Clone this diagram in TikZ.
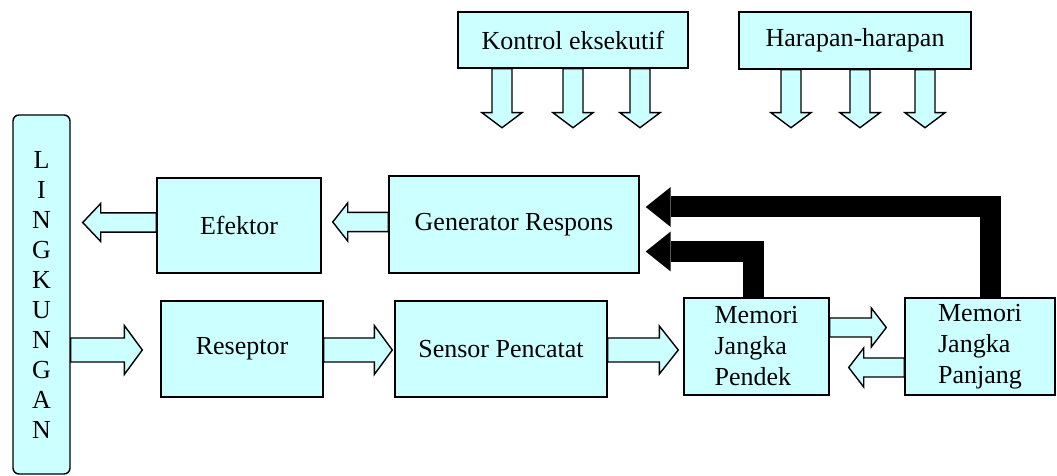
\documentclass[tikz,border=0pt]{standalone}
\usepackage{fontspec}
\setmainfont{Liberation Serif}
\usetikzlibrary{calc,arrows.meta}
\definecolor{boxcyan}{HTML}{CCFFFF}

\tikzset{
  box/.style={draw,rectangle,fill=boxcyan,line width=0.7pt,inner sep=0pt,align=center},
  hollow/.style={draw,fill=boxcyan,line width=0.7pt},
  recall/.style={line width=10.5pt,-{Triangle[length=12.5pt,width=20pt,line width=0pt]}},
}

% fat outlined arrow: shaft half width, head half width, head length, from, to
\newcommand{\blockarrow}[5]{%
  \coordinate (ba_s) at (#4);
  \coordinate (ba_e) at (#5);
  \coordinate (ba_m) at ($(ba_e)!#3!(ba_s)$);
  \draw[hollow] ($(ba_s)!#1!90:(ba_e)$) -- ($(ba_m)!#1!-90:(ba_s)$)
    -- ($(ba_m)!#2!-90:(ba_s)$) -- (ba_e) -- ($(ba_m)!#2!90:(ba_s)$)
    -- ($(ba_m)!#1!90:(ba_s)$) -- ($(ba_s)!#1!-90:(ba_e)$) -- cycle;
}

\begin{document}
\begin{tikzpicture}[x=0.5pt,y=-0.5pt,font=\fontsize{13}{15}\selectfont]
 \useasboundingbox (0,0) rectangle (1057,476);

 \node[box,minimum width=115pt,minimum height=28pt] (kontrol) at (573,40) {Kontrol eksekutif};
 \node[box,minimum width=116pt,minimum height=28.5pt] (harapan) at (855,40.5) {Harapan-harapan};
 \node[box,rounded corners=3pt,minimum width=28.5pt,minimum height=179.5pt] (lingkungan) at (41.5,294.5)
{L\\I\\N\\G\\K\\U\\N\\G\\A\\N};

 \node[box,minimum width=82pt,minimum height=47.5pt] (efektor) at (239,225.5) {Efektor};
 \node[box,minimum width=125pt,minimum height=48.5pt] (generator) at (514,224.5) {Generator Respons};

 \node[box,minimum width=81pt,minimum height=48pt] (reseptor) at (242,349) {Reseptor};
 \node[box,minimum width=106pt,minimum height=48pt] (sensor) at (501,349) {Sensor Pencatat};
 \node[box,align=left,minimum width=72.5pt,minimum height=48.5pt,font=\fontsize{13}{15.5}\selectfont]
(mem_pendek) at (756.5,346.5) {Memori\\Jangka\\Pendek};
 \node[box,align=left,minimum width=75pt,minimum height=48.5pt,font=\fontsize{13}{15.5}\selectfont]
(mem_panjang) at (980,346.5) {Memori\\Jangka\\Panjang};

% hollow arrows from the top boxes
 \foreach \dx in {-71,0,67}
  \blockarrow{5pt}{10pt}{7.5pt}{$(kontrol.south)+(\dx,0)$}{$(kontrol.south)+(\dx,59)$};
 \foreach \dx in {-64,5,70}
  \blockarrow{5pt}{10pt}{7.5pt}{$(harapan.south)+(\dx,0)$}{$(harapan.south)+(\dx,58)$};

% hollow arrows between the boxes
 \blockarrow{4.8pt}{9.5pt}{9pt}{$(efektor.west)+(0,-3)$}{$(lingkungan.east |- efektor.west)+(12,-3)$};
 \blockarrow{4.8pt}{9.5pt}{7.5pt}{$(generator.west)+(0,-2.5)$}{$(efektor.east)+(11,-3.5)$};
 \blockarrow{6pt}{12.25pt}{9pt}{$(lingkungan.east |- reseptor.west)+(0,1)$}{$(reseptor.west)+(-18,1)$};
 \blockarrow{6pt}{12.25pt}{9pt}{$(reseptor.east)+(0,1)$}{$(sensor.west)+(-2,1)$};
 \blockarrow{6pt}{12pt}{9.5pt}{$(sensor.east)+(0,1)$}{$(mem_pendek.west)+(-5,3.5)$};
 \blockarrow{4.75pt}{9.75pt}{7.5pt}{$(mem_pendek.east)+(0,-19)$}{$(mem_panjang.west)+(-18,-19)$};
 \blockarrow{4.75pt}{9.75pt}{7.5pt}{$(mem_panjang.west)+(0,21)$}{$(mem_pendek.east)+(19,21)$};

% black arrows back to the response generator
 \draw[recall] ($(mem_panjang.north)+(10,0)$) |- ($(generator.east)+(6,-17.5)$);
 \draw[recall] ($(mem_pendek.north)+(-3,0)$) |- ($(generator.east)+(6,27)$);
\end{tikzpicture}
\end{document}
